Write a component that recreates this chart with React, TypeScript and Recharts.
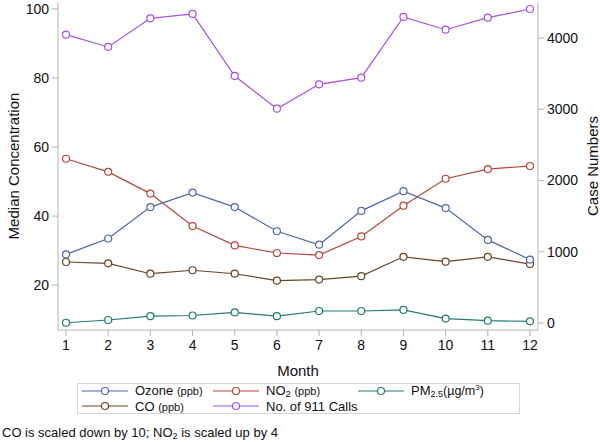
import React from 'react';
import { LineChart, Line, XAxis, YAxis } from 'recharts';

const months = [1, 2, 3, 4, 5, 6, 7, 8, 9, 10, 11, 12];
const ozone = [28.9, 33.5, 42.6, 46.8, 42.6, 35.6, 31.7, 41.5, 47.2, 42.3, 33.1, 27.4];
const no2 = [56.6, 52.8, 46.5, 37.1, 31.5, 29.3, 28.7, 34.1, 43.0, 50.8, 53.6, 54.5];
const co = [26.7, 26.3, 23.3, 24.3, 23.3, 21.3, 21.6, 22.6, 28.2, 26.8, 28.2, 26.1];
const pm25 = [9.1, 9.9, 11.0, 11.2, 12.1, 11.0, 12.5, 12.5, 12.8, 10.3, 9.7, 9.5];
const calls = [4047, 3874, 4276, 4337, 3467, 3008, 3350, 3443, 4295, 4116, 4285, 4407];

const leftTicks = [20, 40, 60, 80, 100];
const rightTicks = [0, 1000, 2000, 3000, 4000];

const data = months.map((m, i) => ({
  month: m,
  ozone: ozone[i],
  no2: no2[i],
  co: co[i],
  pm25: pm25[i],
  calls: calls[i],
}));

const C = {
  ozone: '#5166ad',
  no2: '#b8463b',
  pm25: '#1f7c70',
  co: '#6b4524',
  calls: '#a650e8',
};

const FONT = '"Liberation Sans", Arial, sans-serif';
const AXIS = '#b4b4b4';
const tickStyle = { fill: '#111', fontSize: 14, fontFamily: FONT };

const dot = (color: string) => ({ r: 3.5, stroke: color, strokeWidth: 1.2, fill: '#fff' });

const Swatch = ({ color }: { color: string }) => (
  <svg width={46} height={10} style={{ display: 'block' }}>
    <line x1={0} y1={5} x2={46} y2={5} stroke={color} strokeWidth={1.2} />
    <circle cx={23} cy={5} r={3.5} stroke={color} strokeWidth={1.2} fill="#fff" />
  </svg>
);

const Item = ({ color, left, top, children }: { color: string; left: number; top: number; children: React.ReactNode }) => (
  <div style={{ position: 'absolute', left, top, display: 'flex', alignItems: 'center', height: 13, whiteSpace: 'nowrap' }}>
    <Swatch color={color} />
    <span style={{ marginLeft: 7, fontSize: 13, lineHeight: '13px', height: 13, display: 'inline-block' }}>{children}</span>
  </div>
);

const small = { fontSize: 11 };
// subscripts shifted with relative positioning so they don't grow the line box
const sub = (size: number) => ({ fontSize: size, position: 'relative' as const, top: 2, lineHeight: 0 });

export default function App() {
  return (
    <div style={{ position: 'absolute', left: 0, top: 0, width: 600, height: 442, background: '#fff', fontFamily: FONT, color: '#111' }}>
      <LineChart width={600} height={442} data={data} margin={{ top: 2, right: 0, left: 0, bottom: 64 }}>
        <XAxis
          dataKey="month"
          type="number"
          domain={[0.81, 12.19]}
          ticks={months}
          allowDataOverflow
          height={48}
          stroke={AXIS}
          tickSize={6}
          tickMargin={4}
          tick={tickStyle}
          label={{ value: 'Month', position: 'insideBottom', offset: 2, style: { fill: '#111', fontSize: 15, fontFamily: FONT } }}
        />
        <XAxis xAxisId="top" orientation="top" dataKey="month" type="number" domain={[0.81, 12.19]} height={0} tick={false} tickLine={false} stroke={AXIS} />
        <YAxis
          yAxisId="left"
          width={58}
          domain={[7, 102]}
          ticks={leftTicks}
          allowDataOverflow
          stroke={AXIS}
          tickSize={6}
          tickMargin={3}
          tick={tickStyle}
          label={{ value: 'Median Concentration', angle: -90, position: 'insideLeft', offset: 14, style: { textAnchor: 'middle', fill: '#111', fontSize: 15, fontFamily: FONT } }}
        />
        <YAxis
          yAxisId="right"
          orientation="right"
          width={62}
          domain={[-98, 4505]}
          ticks={rightTicks}
          allowDataOverflow
          stroke={AXIS}
          tickSize={6}
          tickMargin={3}
          tick={tickStyle}
          label={{ value: 'Case Numbers', angle: -90, position: 'insideRight', offset: 7, style: { textAnchor: 'middle', fill: '#111', fontSize: 15, fontFamily: FONT } }}
        />
        <Line yAxisId="right" dataKey="calls" stroke={C.calls} strokeWidth={1.2} dot={dot(C.calls)} isAnimationActive={false} />
        <Line yAxisId="left" dataKey="co" stroke={C.co} strokeWidth={1.2} dot={dot(C.co)} isAnimationActive={false} />
        <Line yAxisId="left" dataKey="pm25" stroke={C.pm25} strokeWidth={1.2} dot={dot(C.pm25)} isAnimationActive={false} />
        <Line yAxisId="left" dataKey="no2" stroke={C.no2} strokeWidth={1.2} dot={dot(C.no2)} isAnimationActive={false} />
        <Line yAxisId="left" dataKey="ozone" stroke={C.ozone} strokeWidth={1.2} dot={dot(C.ozone)} isAnimationActive={false} />
      </LineChart>

      <div style={{ position: 'absolute', left: 77, top: 383, width: 443, height: 31, border: '1px solid #d6d6d6', boxSizing: 'border-box' }}>
        <Item color={C.ozone} left={4} top={0}>
          Ozone <span style={small}>(ppb)</span>
        </Item>
        <Item color={C.no2} left={135} top={0}>
          NO<span style={sub(9.5)}>2</span> <span style={small}>(ppb)</span>
        </Item>
        <Item color={C.pm25} left={280} top={0}>
          PM<span style={sub(9)}>2.5</span>
          <span style={{ fontSize: 12.5 }}>(µg/m<span style={{ fontSize: 8, position: 'relative', top: -5, lineHeight: 0 }}>3</span>)</span>
        </Item>
        <Item color={C.co} left={4} top={15.5}>
          CO <span style={small}>(ppb)</span>
        </Item>
        <Item color={C.calls} left={135} top={15.5}>
          No. of 911 Calls
        </Item>
      </div>

      <div style={{ position: 'absolute', left: 2, top: 425, fontSize: 13, whiteSpace: 'nowrap' }}>
        CO is scaled down by 10; NO<span style={sub(9)}>2</span> is scaled up by 4
      </div>
    </div>
  );
}
